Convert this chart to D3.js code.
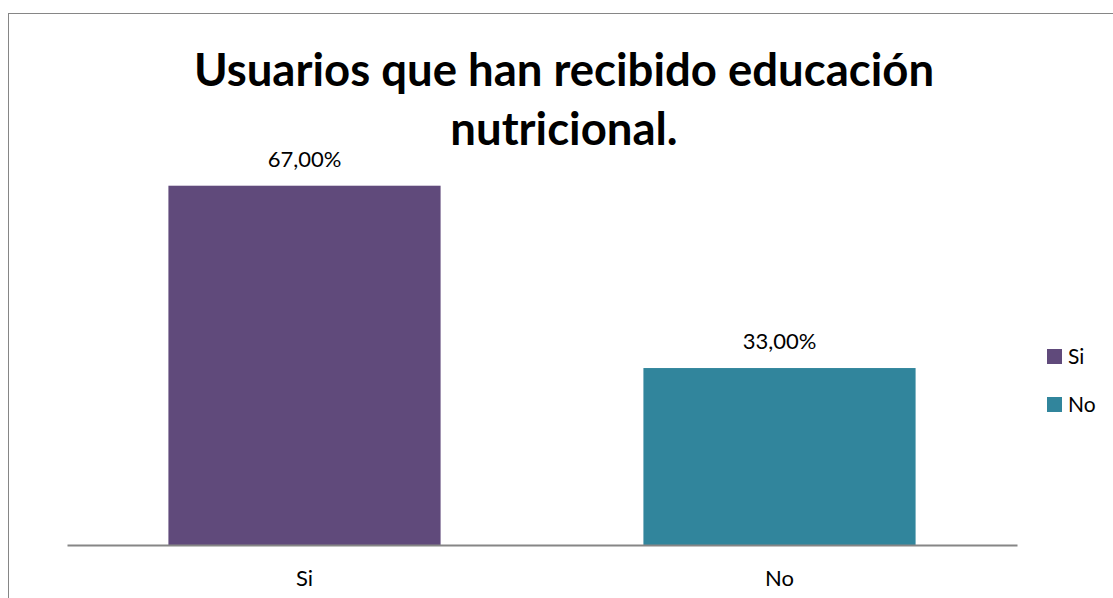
<!DOCTYPE html>
<html>
<head>
<meta charset="utf-8">
<script src="https://cdn.jsdelivr.net/npm/d3@7"></script>
<style>
  html, body { margin: 0; padding: 0; background: #fff; }
  svg { display: block; }
</style>
</head>
<body>
<svg id="chart" width="1113" height="598"></svg>
<script>
// Chart data
const categories = ["Si", "No"];
const values = [0.67, 0.33];
const colors = ["#604a7b", "#31859c"];
const titleLines = ["Usuarios que han recibido educación", "nutricional."];

const svg = d3.select("#chart");
const W = 1113, H = 598;
const font = "Lato, 'Open Sans', sans-serif";

// Outer chart frame
svg.append("rect")
  .attr("x", 8.5).attr("y", 13.5)
  .attr("width", W + 20).attr("height", H + 20)
  .attr("fill", "none").attr("stroke", "#868686").attr("stroke-width", 1);

// Plot area
const plot = { left: 67, right: 1017, top: 116, bottom: 545 };

const x = d3.scaleBand()
  .domain(categories)
  .range([plot.left, plot.right])
  .paddingInner(0.427)
  .paddingOuter(0.2135);

const y = d3.scaleLinear()
  .domain([0, 0.8])
  .range([plot.bottom, plot.top]);

const fmt = v => d3.format(".2f")(v * 100).replace(".", ",") + "%";

// Bars
svg.selectAll("rect.bar")
  .data(categories)
  .join("rect")
  .attr("class", "bar")
  .attr("x", d => x(d))
  .attr("y", (d, i) => y(values[i]))
  .attr("width", x.bandwidth())
  .attr("height", (d, i) => y(0) - y(values[i]))
  .attr("fill", (d, i) => colors[i]);

// Value labels
svg.selectAll("text.val")
  .data(categories)
  .join("text")
  .attr("class", "val")
  .attr("x", d => x(d) + x.bandwidth() / 2)
  .attr("y", (d, i) => y(values[i]) - 19)
  .attr("text-anchor", "middle")
  .attr("font-family", font)
  .attr("font-size", 22)
  .attr("fill", "#000")
  .text((d, i) => fmt(values[i]));

// Category axis
const xAxis = svg.append("g")
  .attr("transform", `translate(0,${plot.bottom})`)
  .call(d3.axisBottom(x).tickSize(0).tickPadding(25).tickSizeOuter(0));
xAxis.select(".domain").attr("stroke", "#868686").attr("stroke-width", 2);
xAxis.selectAll("text")
  .attr("font-family", font)
  .attr("font-size", 22)
  .attr("fill", "#000");

// Title
svg.append("text")
  .attr("x", 564)
  .attr("text-anchor", "middle")
  .attr("font-family", font)
  .attr("font-weight", "bold")
  .attr("font-size", 45.5)
  .attr("fill", "#000")
  .selectAll("tspan")
  .data(titleLines)
  .join("tspan")
  .attr("x", 564)
  .attr("y", (d, i) => 86 + i * 59)
  .text(d => d);

// Legend
const legend = svg.append("g")
  .selectAll("g")
  .data(categories)
  .join("g")
  .attr("transform", (d, i) => `translate(1047,${349 + i * 48})`);
legend.append("rect")
  .attr("width", 15).attr("height", 15)
  .attr("fill", (d, i) => colors[i]);
legend.append("text")
  .attr("x", 21).attr("y", 15)
  .attr("font-family", font)
  .attr("font-size", 21)
  .attr("fill", "#000")
  .text(d => d);
</script>
</body>
</html>
